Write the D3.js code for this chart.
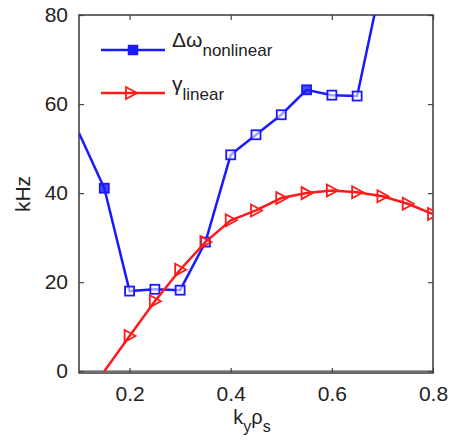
<!DOCTYPE html>
<html>
<head>
<meta charset="utf-8">
<script src="https://cdn.jsdelivr.net/npm/d3@7"></script>
<style>
body { margin: 0; background: #fff; }
svg text { font-family: "Liberation Sans", Arial, sans-serif; fill: #222; }
</style>
</head>
<body>
<svg id="chart" width="452" height="443"></svg>
<script>
// data
var kx = [0.1, 0.15, 0.2, 0.25, 0.3, 0.35, 0.4, 0.45, 0.5, 0.55, 0.6, 0.65, 0.7];
var dOmega = [53.5, 41.1, 18, 18.4, 18.2, 29, 48.6, 53.1, 57.6, 63.2, 62, 61.8, 88.5];
var kxLin = [0.15, 0.2, 0.25, 0.3, 0.35, 0.4, 0.45, 0.5, 0.55, 0.6, 0.65, 0.7, 0.75, 0.8];
var gammaLin = [0, 7.9, 15.7, 22.8, 29, 33.9, 36.1, 38.9, 40, 40.6, 40.2, 39.3, 37.6, 35.3];
var xTicks = [0.2, 0.4, 0.6, 0.8];
var yTicks = [0, 20, 40, 60, 80];

var svg = d3.select("#chart"),
    margin = {top: 15, right: 19, bottom: 70, left: 79},
    width = +svg.attr("width") - margin.left - margin.right,
    height = +svg.attr("height") - margin.top - margin.bottom;

var x = d3.scaleLinear().domain([0.1, 0.8]).range([0, width]),
    y = d3.scaleLinear().domain([-0.4, 80]).range([height, 0]);

var g = svg.append("g")
    .attr("transform", "translate(" + margin.left + "," + margin.top + ")");

g.append("clipPath").attr("id", "clip")
    .append("rect").attr("width", width).attr("height", height);

// zero line
g.append("line")
    .attr("x1", 0).attr("x2", width)
    .attr("y1", y(0)).attr("y2", y(0))
    .attr("stroke", "#444").attr("stroke-width", 1.2);

// axes with inner ticks, box style
function styleAxis(sel) {
    sel.select(".domain").remove();
    sel.selectAll("line").attr("stroke", "#444").attr("stroke-width", 1.2);
    sel.selectAll("text").style("font-size", "21px").attr("fill", "#222");
}
g.append("g")
    .attr("transform", "translate(0," + height + ")")
    .call(d3.axisBottom(x).tickValues(xTicks).tickSize(-5).tickPadding(13).tickFormat(d3.format(".1f")))
    .call(styleAxis);
g.append("g")
    .call(d3.axisTop(x).tickValues(xTicks).tickSize(-5).tickFormat(""))
    .call(styleAxis);
g.append("g")
    .call(d3.axisLeft(y).tickValues(yTicks).tickSize(-5).tickPadding(11))
    .call(styleAxis);
g.append("g")
    .attr("transform", "translate(" + width + ",0)")
    .call(d3.axisRight(y).tickValues(yTicks).tickSize(-5).tickFormat(""))
    .call(styleAxis);

g.append("rect")
    .attr("width", width).attr("height", height)
    .attr("fill", "none").attr("stroke", "#444").attr("stroke-width", 1.6);

var line = d3.line()
    .x(function (d) { return x(d[0]); })
    .y(function (d) { return y(d[1]); });

var blueData = d3.zip(kx, dOmega);
var redData = d3.zip(kxLin, gammaLin);
var blue = "#1a1aff", red = "#ff1a1a";

var plot = g.append("g").attr("clip-path", "url(#clip)");

plot.append("path").datum(blueData)
    .attr("d", line).attr("fill", "none")
    .attr("stroke", blue).attr("stroke-width", 2.5);

plot.selectAll(".sq").data(blueData.slice(1, 12))
    .enter().append("rect")
    .attr("class", "sq")
    .attr("x", function (d) { return x(d[0]) - 4.5; })
    .attr("y", function (d) { return y(d[1]) - 4.5; })
    .attr("width", 9).attr("height", 9)
    .attr("fill", function (d, i) { return (i === 0 || i === 8) ? blue : "#fff"; })
    .attr("fill-opacity", function (d, i) { return (i === 0 || i === 8) ? 0.8 : 0.6; })
    .attr("stroke", blue).attr("stroke-width", 1.8);

plot.append("path").datum(redData)
    .attr("d", line).attr("fill", "none")
    .attr("stroke", red).attr("stroke-width", 2.5);

var tri = "M-5,-6L6,0L-5,6Z";
plot.selectAll(".tri").data(redData.slice(1))
    .enter().append("path")
    .attr("class", "tri")
    .attr("d", tri)
    .attr("transform", function (d) { return "translate(" + x(d[0]) + "," + y(d[1]) + ")"; })
    .attr("fill", "none").attr("stroke", red).attr("stroke-width", 1.8);

// legend
svg.append("line").attr("x1", 101).attr("x2", 165).attr("y1", 50).attr("y2", 50)
    .attr("stroke", blue).attr("stroke-width", 2.5);
svg.append("rect").attr("x", 128.5).attr("y", 45.5).attr("width", 9).attr("height", 9)
    .attr("fill", blue).attr("stroke", blue).attr("stroke-width", 1.5);
svg.append("line").attr("x1", 101).attr("x2", 165).attr("y1", 93).attr("y2", 93)
    .attr("stroke", red).attr("stroke-width", 2.5);
svg.append("path").attr("d", tri).attr("transform", "translate(131,93)")
    .attr("fill", "none").attr("stroke", red).attr("stroke-width", 1.8);

var t1 = svg.append("text").attr("x", 172).attr("y", 47).style("font-size", "21px");
t1.append("tspan").text("\u0394\u03c9");
t1.append("tspan").attr("dy", 9).style("font-size", "17px").text("nonlinear");
var t2 = svg.append("text").attr("x", 172).attr("y", 91).style("font-size", "21px");
t2.append("tspan").text("\u03b3");
t2.append("tspan").attr("dy", 9).style("font-size", "17px").text("linear");

// axis labels
var xl = svg.append("text").attr("x", 252).attr("y", 424)
    .attr("text-anchor", "middle").style("font-size", "20px");
xl.append("tspan").text("k");
xl.append("tspan").attr("dy", 8).style("font-size", "16px").text("y");
xl.append("tspan").attr("dy", -8).text("\u03c1");
xl.append("tspan").attr("dy", 8).style("font-size", "16px").text("s");

svg.append("text")
    .attr("transform", "translate(30,194) rotate(-90)")
    .attr("text-anchor", "middle").style("font-size", "21px")
    .text("kHz");
</script>
</body>
</html>
